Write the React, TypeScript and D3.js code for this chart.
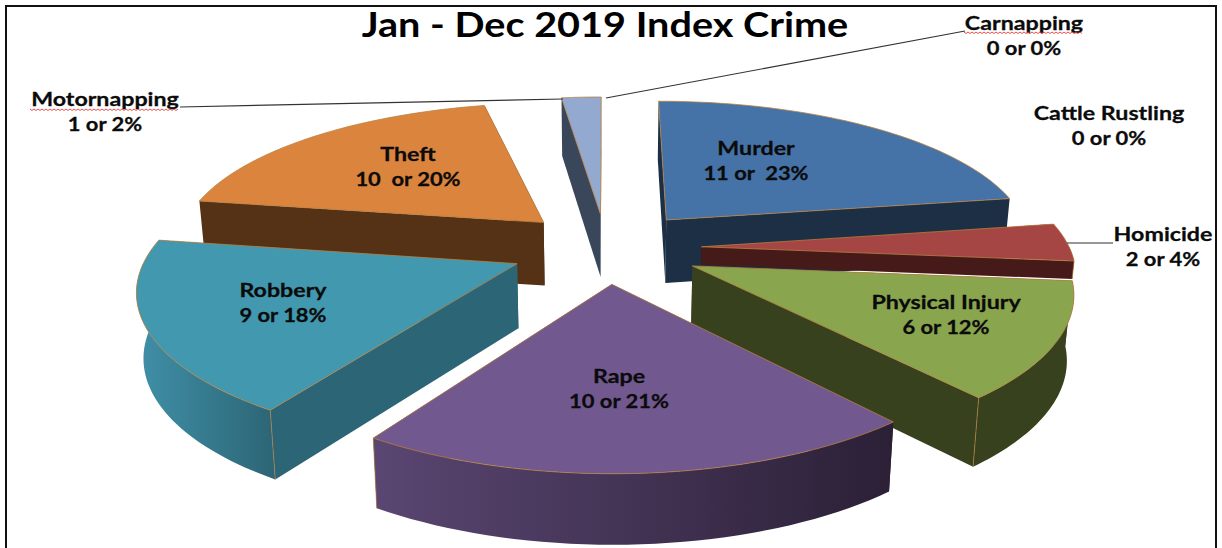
import { useRef, useEffect } from "react";
import * as d3 from "d3";

const WIDTH = 1222;
const HEIGHT = 548;

// Chart values, clockwise from twelve o'clock
const categories = ["Murder", "Homicide", "Physical Injury", "Rape", "Robbery", "Theft", "Motornapping", "Carnapping", "Cattle Rustling"];
const counts = [11, 2, 6, 10, 9, 10, 1, 0, 0];
const percents = [23, 4, 12, 21, 18, 20, 2, 0, 0];
const gapAfterCount = [" ", " ", " ", " ", " ", "  ", " ", " ", " "];
const gapAfterOr = ["  ", " ", " ", " ", " ", " ", " ", " ", " "];

// Styles
const topColors = ["#4573a7", "#a64644", "#89a54e", "#71588f", "#4198af", "#db843d", "#93a9cf", "none", "none"];
const wallColors = ["#1c2f45", "#451a18", "#37411e", "#2c2138", "#2c6575", "#553216", "#3a475b", "none", "none"];
const curveStart = ["#1c2f45", "#451a18", "#37411e", "#5a4672", "#4090a8", "#553216", "#3a475b", "none", "none"];
const curveEnd = ["#1c2f45", "#451a18", "#37411e", "#2b2036", "#2c6575", "#553216", "#3a475b", "none", "none"];
const depthShare = [1, 0.28, 1, 1, 1, 1, 1, 0, 0];
const explodeShare = [0.26, 0.26, 0.26, 0.24, 0.26, 0.25, 0.24, 0, 0];
// the theft slice is drawn a little short of its neighbour in the original (degrees)
const endTrim = [0, 0, 0, 0, 0, 5, 0, 0, 0];

// Label anchors (centre x, baseline of first line)
const labelX = [756, 1163, 946, 619, 283, 408, 105, 1024, 1109];
const labelY = [155, 241, 309, 383, 297, 161, 106, 30, 120];

const Chart = () => {
  const svgRef = useRef<SVGSVGElement | null>(null);

  useEffect(() => {
    if (!svgRef.current) return;

    const svg = d3.select(svgRef.current);
    svg.selectAll("*").remove();

    // Projection of the pie plane
    const cx = 606;
    const cy = 248;
    const perspectiveX = 0.15;
    const perspectiveY = 0.16;
    const xScale = d3.scaleLinear().domain([-1, 1]).range([-368, 368]);
    const yScale = d3.scaleLinear().domain([-1, 1]).range([146, -146]);
    const depth = 64;
    const depthPerspective = 0.08;

    const project = (u: number, v: number, z: number): [number, number] => {
      const sx = (xScale(u) / (1 + perspectiveX * v)) * (1 - 0.015 * z);
      const sy = yScale(v) / (1 + perspectiveY * v) + (z * depth) / (1 + depthPerspective * v);
      return [cx + sx, cy + sy];
    };

    const pie = d3.pie<number>().sort(null).value((d) => d);
    const slices = pie(counts);
    const line = d3.line();
    const defs = svg.append("defs");

    // Back to front
    const drawOrder = [5, 6, 0, 1, 4, 2, 3];

    drawOrder.forEach((i) => {
      const s = slices[i];
      const mid = (s.startAngle + s.endAngle) / 2;
      const ox = explodeShare[i] * Math.sin(mid);
      const ov = explodeShare[i] * Math.cos(mid);
      const start = s.startAngle;
      const end = s.endAngle - (endTrim[i] * Math.PI) / 180;
      const rim = (a: number, z: number) =>
        project(ox + Math.sin(a), ov + Math.cos(a), z * depthShare[i]);
      const apex = (z: number) => project(ox, ov, z * depthShare[i]);

      const g = svg.append("g");
      const edge = "#b9803f";

      const walls = [start, end]
        .map((a) => ({ a, y: rim(a, 0)[1] }))
        .sort((p, q) => p.y - q.y);
      walls.forEach(({ a }) => {
        g.append("path")
          .attr("d", line([apex(0), rim(a, 0), rim(a, 1), apex(1)]) + "Z")
          .attr("fill", wallColors[i]);
      });

      // Outer wall, only the part that faces the viewer
      const a0 = Math.max(start, Math.PI / 2);
      const a1 = Math.min(end, (3 * Math.PI) / 2);
      if (a1 > a0) {
        const angles = d3.range(0, 41).map((k) => a0 + ((a1 - a0) * k) / 40);
        const id = `curve-${i}`;
        const grad = defs.append("linearGradient").attr("id", id);
        grad.append("stop").attr("offset", "0%").attr("stop-color", curveStart[i]);
        grad.append("stop").attr("offset", "100%").attr("stop-color", curveEnd[i]);
        g.append("path")
          .attr("d", line([...angles.map((a) => rim(a, 0)), ...angles.slice().reverse().map((a) => rim(a, 1))]) + "Z")
          .attr("fill", `url(#${id})`);
        // edge between the wall faces
        const corner = start > Math.PI ? start : end;
        if (corner > Math.PI / 2 && corner < (3 * Math.PI) / 2) {
          g.append("path")
            .attr("d", line([rim(corner, 0), rim(corner, 1)]))
            .attr("stroke", edge)
            .attr("stroke-width", 0.7)
            .attr("fill", "none");
        }
      }

      const topAngles = d3.range(0, 61).map((k) => start + ((end - start) * k) / 60);
      g.append("path")
        .attr("d", line([apex(0), ...topAngles.map((a) => rim(a, 0))]) + "Z")
        .attr("fill", topColors[i])
        .attr("stroke", edge)
        .attr("stroke-width", 0.8);
    });

    // Frame
    svg.append("path")
      .attr("d", "M6,550V6H1216V550")
      .attr("fill", "none")
      .attr("stroke", "#111")
      .attr("stroke-width", 2);

    // Leader lines
    const leaders: [number, number][][] = [
      [[180, 107], [563, 99]],
      [[606, 98], [965, 31]],
      [[1067, 243], [1113, 243]],
    ];
    leaders.forEach((l) => {
      svg.append("path").attr("d", line(l)).attr("stroke", "#333").attr("stroke-width", 1.2).attr("fill", "none");
    });

    // Title (the original is a stretched bitmap, hence the wide scale)
    svg.append("text")
      .attr("transform", "translate(605,37) scale(1.2,1.04)")
      .attr("text-anchor", "middle")
      .style("font", "bold 33px Lato")
      .style("fill", "#000")
      .text("Jan - Dec 2019 Index Crime");

    // Labels
    const addLabel = (i: number) => {
      const rows = [categories[i], `${counts[i]}${gapAfterCount[i]}or${gapAfterOr[i]}${percents[i]}%`];
      rows.forEach((row, r) => {
        svg.append("text")
          .attr("transform", `translate(${labelX[i]},${labelY[i] + r * 25}) scale(${r ? 1.22 : 1.29},1.04)`)
          .attr("text-anchor", "middle")
          .style("font", "bold 18px Lato")
          .style("fill", "#0b0b0b")
          .style("stroke", "#0b0b0b")
          .style("stroke-width", 0.25)
          .style("white-space", "pre")
          .text(row);
      });
    };
    categories.forEach((_, i) => addLabel(i));

    // Spell-check squiggles under the two flagged words
    const squiggle = (x0: number, x1: number, y: number) => {
      const pts = d3.range(x0, x1, 2).map((x, k): [number, number] => [x, y + (k % 2 ? 1.5 : 0)]);
      svg.append("path").attr("d", line(pts)).attr("stroke", "#e2403a").attr("stroke-width", 0.9).attr("fill", "none");
    };
    squiggle(30, 180, 109);
    squiggle(964, 1084, 32);
  }, []);

  return (
    <svg
      ref={svgRef}
      width={WIDTH}
      height={HEIGHT}
      style={{ position: "absolute", left: 0, top: 0, background: "#fff" }}
    ></svg>
  );
};

export default function App() {
  return <Chart />;
}
